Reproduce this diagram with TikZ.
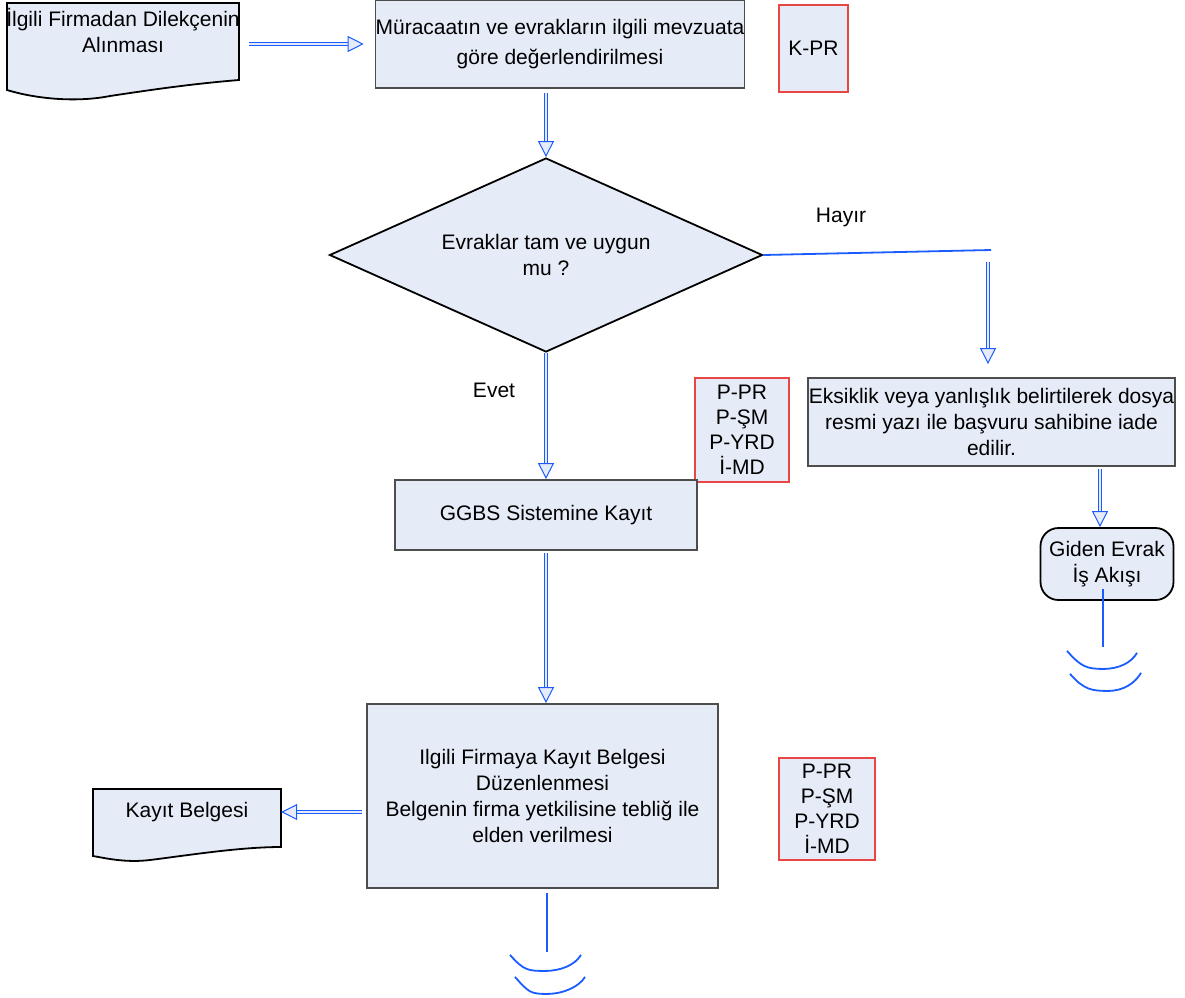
\documentclass[tikz,border=0pt]{standalone}
\usepackage{fontspec}
\setmainfont{Liberation Sans}
\usetikzlibrary{shapes.geometric,arrows.meta,positioning}

\definecolor{kutu}{HTML}{E6ECF7}
\definecolor{cizgi}{HTML}{4D4D4D}
\definecolor{akis}{HTML}{1A5CFF}
\definecolor{kirmizi}{HTML}{E84545}

\tikzset{
  metin/.style={font=\fontsize{21}{26}\selectfont, align=center, inner sep=0pt},
  islem/.style={metin, draw=cizgi, fill=kutu, line width=1.8pt},
  sorumlu/.style={metin, font=\fontsize{21}{25}\selectfont, draw=kirmizi, fill=kutu, line width=1.3pt},
  karar/.style={metin, diamond, shape aspect=2.2, draw=black, fill=kutu, line width=1.8pt},
  belge/.style={draw=black, fill=kutu, line width=1.8pt},
  akisok/.style={draw=akis, line width=0.9pt, double=kutu, double distance=2.4pt,
    -{Triangle[fill=kutu, length=16pt, width=16pt, line width=1pt]}},
  hat/.style={draw=akis, line width=1.8pt}
}

\begin{document}
\begin{tikzpicture}[x=1pt,y=-1pt]
  \useasboundingbox (0,0) rectangle (1185,997);
  % belge sekilleri
  \draw[belge] (7,3) -- (239,3) -- (239,80) .. controls (190,84) and (150,90) .. (110,96)
    .. controls (80,102) and (40,100) .. (7,90) -- cycle;
  \draw[belge] (93,789) -- (281,789) -- (281,847) .. controls (240,847) and (190,855) .. (150,860)
    .. controls (125,863) and (105,858) .. (93,856) -- cycle;

  % dugumler
  \node[metin, minimum width=232pt] (dilekce) at (123,30) {İlgili Firmadan Dilekçenin\\Alınması};
  \node[islem, minimum width=368pt, minimum height=88pt, font=\fontsize{21}{30}\selectfont] (muracaat) at (560,44)
    {Müracaatın ve evrakların ilgili mevzuata\\göre değerlendirilmesi};
  \node[sorumlu, minimum width=69pt, minimum height=87pt] (kpr) at (813.5,48.5) {K-PR};
  \node[karar, minimum width=433pt, minimum height=194pt] (soru) at (546,255) {Evraklar tam ve uygun\\mu ?};
  \node[metin] (hayir) at (841,217) {Hayır};
  \node[metin] (evet) at (494,390) {Evet};
  \coordinate (donus) at (991,250);
  \coordinate (inis) at (988,262);
  \node[islem, minimum width=367pt, minimum height=88pt] (eksik) at (991.5,422)
    {Eksiklik veya yanlışlık belirtilerek dosya\\resmi yazı ile başvuru sahibine iade\\edilir.};
  \node[sorumlu, minimum width=94pt, minimum height=104pt] (ekip1) at (742,430) {P-PR\\P-ŞM\\P-YRD\\İ-MD};
  \node[islem, minimum width=302pt, minimum height=70pt] (ggbs) at (546,515) {GGBS Sistemine Kayıt};
  \node[metin, draw=black, fill=kutu, line width=1.8pt, rounded corners=18pt, minimum width=133pt,
    minimum height=72pt] (giden) at (1107,564) {Giden Evrak\\İş Akışı};
  \node[islem, minimum width=351pt, minimum height=184pt] (tebliğ) at (542.5,796)
    {Ilgili Firmaya Kayıt Belgesi\\Düzenlenmesi\\ Belgenin firma yetkilisine tebliğ ile\\elden verilmesi};
  \node[sorumlu, minimum width=96pt, minimum height=102pt] (ekip2) at (827,809) {P-PR\\P-ŞM\\P-YRD\\İ-MD};
  \node[metin, minimum width=188pt] (kayitbelge) at (187,812) {Kayıt Belgesi};

  % baglantilar
  \draw[akisok, shorten <=9pt, shorten >=11pt] (dilekce.east |- muracaat.west) -- (muracaat.west);
  \draw[akisok, shorten <=4pt] (soru.north |- muracaat.south) -- (soru.north);
  \draw[hat] (soru.east) -- (donus);
  \draw[akisok, shorten >=13pt] (inis) -- (inis |- eksik.north);
  \draw[akisok] (soru.south) -- (ggbs.north);
  \draw[akisok, shorten <=2pt] (ggbs.south) -- (ggbs.south |- tebliğ.north);
  \draw[akisok, shorten <=4pt] (kayitbelge.east -| tebliğ.west) -- (kayitbelge.east);
  \draw[akisok, shorten <=2pt] ([xshift=-7pt]giden.north |- eksik.south) -- ([xshift=-7pt]giden.north);

  % sayfa disi baglanti
  \draw[hat] ([xshift=-4pt,yshift=12pt]giden.south) -- ++(0,58) coordinate (baglanti1);
  \draw[hat] (baglanti1) ++(-36,4) .. controls +(14,16) and +(-16,0) .. ++(36,18)
    .. controls +(16,0) and +(-6,10) .. ++(34,-16);
  \draw[hat] (baglanti1) ++(-33,27) .. controls +(14,16) and +(-16,0) .. ++(38,17)
    .. controls +(16,0) and +(-6,10) .. ++(33,-18);
  \draw[hat] (ggbs.south |- tebliğ.south) ++(1,4) -- ++(0,59) coordinate (baglanti2);
  \draw[hat] (baglanti2) ++(-37,3) .. controls +(14,16) and +(-16,0) .. ++(35,16)
    .. controls +(16,0) and +(-6,10) .. ++(36,-16);
  \draw[hat] (baglanti2) ++(-32,25) .. controls +(14,16) and +(-16,0) .. ++(32,17)
    .. controls +(16,0) and +(-6,10) .. ++(38,-17);
\end{tikzpicture}
\end{document}
